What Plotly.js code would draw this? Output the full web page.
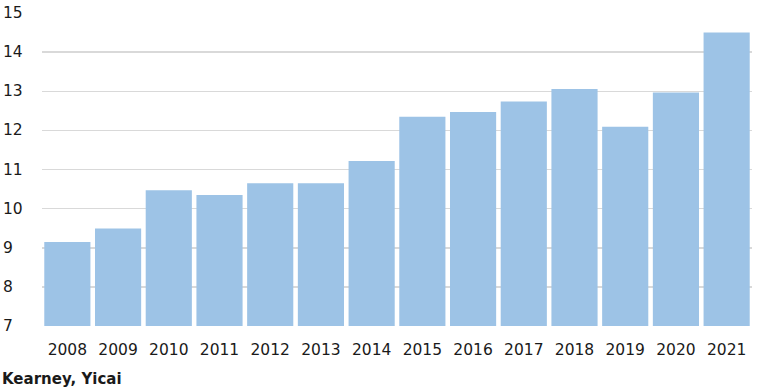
<!DOCTYPE html>
<html>
<head>
<meta charset="utf-8">
<script src="https://cdn.plot.ly/plotly-3.0.1.min.js"></script>
<style>
  html, body { margin: 0; padding: 0; background: #ffffff; }
  #chart { width: 758px; height: 391px; }
</style>
</head>
<body>
<div id="chart"></div>
<script>
const years = ["2008","2009","2010","2011","2012","2013","2014","2015","2016","2017","2018","2019","2020","2021"];
const values = [9.15, 9.49, 10.47, 10.35, 10.65, 10.65, 11.22, 12.35, 12.47, 12.74, 13.06, 12.09, 12.97, 14.50];
const yTicks = [7, 8, 9, 10, 11, 12, 13, 14, 15];
const sourceText = "Kearney, Yicai";

const font = "Verdana, 'DejaVu Sans', sans-serif";

const trace = {
  type: "bar",
  x: years,
  y: values,
  marker: { color: "#9dc3e6", line: { width: 0 } },
  hoverinfo: "x+y"
};

const annotations = yTicks.map(v => ({
  xref: "paper", yref: "y",
  x: -41 / 710, y: v,
  xanchor: "left", yanchor: "middle",
  text: String(v),
  showarrow: false,
  font: { family: font, size: 15.5, color: "#1a1a1a" }
}));
annotations.push({
  xref: "paper", yref: "paper",
  x: -42 / 710, y: -53 / 313,
  xanchor: "left", yanchor: "middle",
  text: "<b>" + sourceText + "</b>",
  showarrow: false,
  font: { family: font, size: 15, color: "#1a1a1a" }
});

const layout = {
  width: 758, height: 391,
  margin: { l: 42, r: 6, t: 13, b: 65, pad: 0 },
  paper_bgcolor: "#ffffff",
  plot_bgcolor: "#ffffff",
  bargap: 0.09,
  showlegend: false,
  xaxis: {
    type: "category",
    showgrid: false,
    zeroline: false,
    showline: false,
    ticks: "",
    tickfont: { family: font, size: 15.5, color: "#1a1a1a" },
    ticklabelstandoff: 12
  },
  yaxis: {
    range: [7, 15],
    tickvals: yTicks,
    showticklabels: false,
    showgrid: true,
    gridcolor: "#d9d9d9",
    gridwidth: 1.5,
    zeroline: false,
    showline: false,
    ticks: ""
  },
  annotations: annotations
};

Plotly.newPlot("chart", [trace], layout, { displayModeBar: false, staticPlot: true });
</script>
</body>
</html>
